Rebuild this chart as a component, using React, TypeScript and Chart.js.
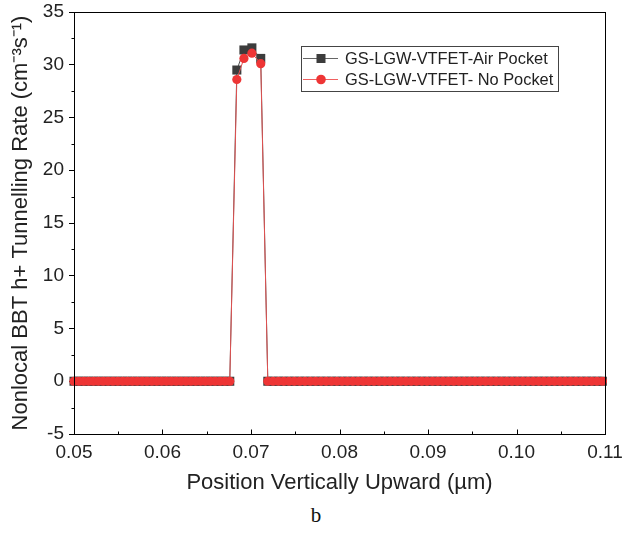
import React, { useEffect, useRef } from "react";
import { Chart, registerables } from "chart.js";

Chart.register(...registerables);

// ---- data ----
const positionsLeft = [
  0.05, 0.05055, 0.0511, 0.05165, 0.0522, 0.05275, 0.0533, 0.05385, 0.0544, 0.05495,
  0.0555, 0.05605, 0.0566, 0.05715, 0.0577, 0.05825, 0.0588, 0.05935, 0.0599, 0.06045,
  0.061, 0.06155, 0.0621, 0.06265, 0.0632, 0.06375, 0.0643, 0.06485, 0.0654, 0.06595,
  0.0665, 0.06705, 0.0676,
];
const zerosLeft = [
  0, 0, 0, 0, 0, 0, 0, 0, 0, 0,
  0, 0, 0, 0, 0, 0, 0, 0, 0, 0,
  0, 0, 0, 0, 0, 0, 0, 0, 0, 0,
  0, 0, 0,
];
const peakPositions = [0.0684, 0.0692, 0.0701, 0.0711];
const airPocketPeak = [29.5, 31.4, 31.6, 30.6];
const noPocketPeak = [28.6, 30.6, 31.1, 30.1];
const positionsRight = [
  0.0719, 0.0725, 0.0731, 0.0737, 0.0743, 0.0749, 0.0755, 0.0761, 0.0767, 0.0773,
  0.0779, 0.0785, 0.0791, 0.0797, 0.0803, 0.0809, 0.0815, 0.0821, 0.0827, 0.0833,
  0.0839, 0.0845, 0.0851, 0.0857, 0.0863, 0.0869, 0.0875, 0.0881, 0.0887, 0.0893,
  0.0899, 0.0905, 0.0911, 0.0917, 0.0923, 0.0929, 0.0935, 0.0941, 0.0947, 0.0953,
  0.0959, 0.0965, 0.0971, 0.0977, 0.0983, 0.0989, 0.0995, 0.1001, 0.1007, 0.1013,
  0.1019, 0.1025, 0.1031, 0.1037, 0.1043, 0.1049, 0.1055, 0.1061, 0.1067, 0.1073,
  0.1079, 0.1085, 0.1091, 0.1097,
];
const zerosRight = [
  0, 0, 0, 0, 0, 0, 0, 0, 0, 0,
  0, 0, 0, 0, 0, 0, 0, 0, 0, 0,
  0, 0, 0, 0, 0, 0, 0, 0, 0, 0,
  0, 0, 0, 0, 0, 0, 0, 0, 0, 0,
  0, 0, 0, 0, 0, 0, 0, 0, 0, 0,
  0, 0, 0, 0, 0, 0, 0, 0, 0, 0,
  0, 0, 0, 0,
];

const seriesNames = ["GS-LGW-VTFET-Air Pocket", "GS-LGW-VTFET- No Pocket"];
const xTickValues = [0.05, 0.06, 0.07, 0.08, 0.09, 0.1, 0.11];
const xTickLabels = ["0.05", "0.06", "0.07", "0.08", "0.09", "0.10", "0.11"];
const xMinorValues = [0.055, 0.065, 0.075, 0.085, 0.095, 0.105];
const yTickValues = [-5, 0, 5, 10, 15, 20, 25, 30, 35];
const yTickLabels = ["-5", "0", "5", "10", "15", "20", "25", "30", "35"];
const yMinorValues = [-2.5, 2.5, 7.5, 12.5, 17.5, 22.5, 27.5, 32.5];
const xTitle = "Position Vertically Upward (\u00b5m)";
const yTitle = "Nonlocal BBT h+ Tunnelling Rate (cm\u207b\u00b3s\u207b\u00b9)";
const caption = "b";

const FONT = "'Liberation Sans', Arial, sans-serif";
const DARK = "#3c3c3c";
const RED = "#ee3535";

const positions = [...positionsLeft, ...peakPositions, ...positionsRight];
const airPocket = [...zerosLeft, ...airPocketPeak, ...zerosRight];
const noPocket = [...zerosLeft, ...noPocketPeak, ...zerosRight];
const toPoints = (ys: number[]) => positions.map((x, i) => ({ x, y: ys[i] }));

const decorPlugin = {
  id: "decor",
  afterDraw(chart: any) {
    const { ctx, chartArea } = chart;
    const xs = chart.scales.x;
    const ys = chart.scales.y;
    ctx.save();
    // frame
    ctx.strokeStyle = "#000";
    ctx.lineWidth = 1;
    ctx.strokeRect(
      Math.round(chartArea.left) + 0.5,
      Math.round(chartArea.top) + 0.5,
      Math.round(chartArea.right - chartArea.left),
      Math.round(chartArea.bottom - chartArea.top)
    );
    // x ticks (inward)
    const bottom = Math.round(chartArea.bottom) + 0.5;
    ctx.beginPath();
    xTickValues.forEach((v) => {
      const px = Math.round(xs.getPixelForValue(v)) + 0.5;
      ctx.moveTo(px, bottom);
      ctx.lineTo(px, bottom - 5);
    });
    xMinorValues.forEach((v) => {
      const px = Math.round(xs.getPixelForValue(v)) + 0.5;
      ctx.moveTo(px, bottom);
      ctx.lineTo(px, bottom - 3);
    });
    // y minor ticks (outward)
    const left = Math.round(chartArea.left) + 0.5;
    yMinorValues.forEach((v) => {
      const py = Math.round(ys.getPixelForValue(v)) + 0.5;
      ctx.moveTo(left, py);
      ctx.lineTo(left - 3, py);
    });
    ctx.stroke();

    // legend
    const bx = 301.5, by = 46.5, bw = 257, bh = 45;
    ctx.fillStyle = "#fff";
    ctx.fillRect(bx, by, bw, bh);
    ctx.strokeStyle = "#444";
    ctx.strokeRect(bx, by, bw, bh);
    const rows = [
      { y: 58.5, line: "#666", fill: DARK, shape: "rect", name: seriesNames[0] },
      { y: 79.5, line: "#f06060", fill: RED, shape: "circle", name: seriesNames[1] },
    ];
    rows.forEach((r) => {
      ctx.strokeStyle = r.line;
      ctx.lineWidth = 1;
      ctx.beginPath();
      ctx.moveTo(303, r.y);
      ctx.lineTo(338, r.y);
      ctx.stroke();
      ctx.fillStyle = r.fill;
      if (r.shape === "rect") {
        ctx.fillRect(321 - 4.5, r.y - 4.5, 9, 9);
      } else {
        ctx.beginPath();
        ctx.arc(321, r.y, 4.8, 0, Math.PI * 2);
        ctx.fill();
      }
      ctx.fillStyle = "#222";
      ctx.font = `16.4px ${FONT}`;
      ctx.textBaseline = "middle";
      ctx.textAlign = "left";
      ctx.fillText(r.name, 345, r.y + 1);
    });
    ctx.restore();
  },
};

export default function App() {
  const canvasRef = useRef<HTMLCanvasElement | null>(null);

  useEffect(() => {
    if (!canvasRef.current) return;
    const chart = new Chart(canvasRef.current, {
      type: "line",
      data: {
        datasets: [
          {
            label: seriesNames[0],
            data: toPoints(airPocket),
            borderColor: "#555",
            backgroundColor: DARK,
            borderWidth: 1,
            pointStyle: "rect",
            pointRadius: 6.4,
            pointBorderWidth: 0,
            pointBackgroundColor: DARK,
            pointBorderColor: DARK,
            tension: 0,
            clip: false,
            order: 2,
          },
          {
            label: seriesNames[1],
            data: toPoints(noPocket),
            borderColor: "#e05050",
            backgroundColor: RED,
            borderWidth: 1,
            pointStyle: "circle",
            pointRadius: 4.6,
            pointBorderWidth: 0,
            pointBackgroundColor: RED,
            pointBorderColor: RED,
            tension: 0,
            clip: false,
            order: 1,
          },
        ] as any,
      },
      options: {
        animation: false,
        responsive: false,
        maintainAspectRatio: false,
        layout: { padding: { left: 0, right: 27, top: 12, bottom: 0 } },
        plugins: {
          legend: { display: false },
          tooltip: { enabled: false },
        },
        scales: {
          x: {
            type: "linear",
            min: 0.05,
            max: 0.11,
            afterBuildTicks: (s: any) => {
              s.ticks = xTickValues.map((v) => ({ value: v }));
            },
            afterFit: (s: any) => {
              s.height = 62;
              s.paddingLeft = 0;
              s.paddingRight = 0;
            },
            grid: { display: true, drawOnChartArea: false, drawTicks: false, color: "#000" },
            border: { display: true, color: "#000", width: 1 },
            ticks: {
              padding: 7,
              color: "#222",
              font: { family: FONT, size: 19 },
              maxRotation: 0,
              autoSkip: false,
              callback: (v: any) => {
                const i = xTickValues.findIndex((t) => Math.abs(t - Number(v)) < 1e-9);
                return i >= 0 ? xTickLabels[i] : "";
              },
            },
            title: {
              display: true,
              text: xTitle,
              color: "#222",
              font: { family: FONT, size: 22 },
              padding: { top: 2, bottom: 0 },
            },
          },
          y: {
            type: "linear",
            min: -5,
            max: 35,
            afterBuildTicks: (s: any) => {
              s.ticks = yTickValues.map((v) => ({ value: v }));
            },
            afterFit: (s: any) => {
              s.width = 74;
              s.paddingTop = 0;
              s.paddingBottom = 0;
            },
            grid: {
              display: true,
              drawOnChartArea: false,
              drawTicks: true,
              tickLength: 5,
              color: "#000",
            },
            border: { display: true, color: "#000", width: 1 },
            ticks: {
              padding: 5,
              color: "#222",
              font: { family: FONT, size: 19 },
              callback: (v: any) => {
                const i = yTickValues.findIndex((t) => Math.abs(t - Number(v)) < 1e-9);
                return i >= 0 ? yTickLabels[i] : "";
              },
            },
            title: {
              display: true,
              text: yTitle,
              color: "#222",
              font: { family: FONT, size: 22 },
              padding: { top: 8, bottom: 0 },
            },
          },
        },
      } as any,
      plugins: [decorPlugin],
    });
    return () => chart.destroy();
  }, []);

  return (
    <div
      style={{
        position: "absolute",
        left: 0,
        top: 0,
        width: 632,
        height: 535,
        background: "#fff",
      }}
    >
      <canvas ref={canvasRef} width={632} height={496} style={{ display: "block" }} />
      <div
        style={{
          position: "absolute",
          left: 0,
          width: 632,
          top: 503,
          textAlign: "center",
          fontFamily: "'Liberation Serif', 'Times New Roman', serif",
          fontSize: 21,
          color: "#111",
        }}
      >
        {caption}
      </div>
    </div>
  );
}
